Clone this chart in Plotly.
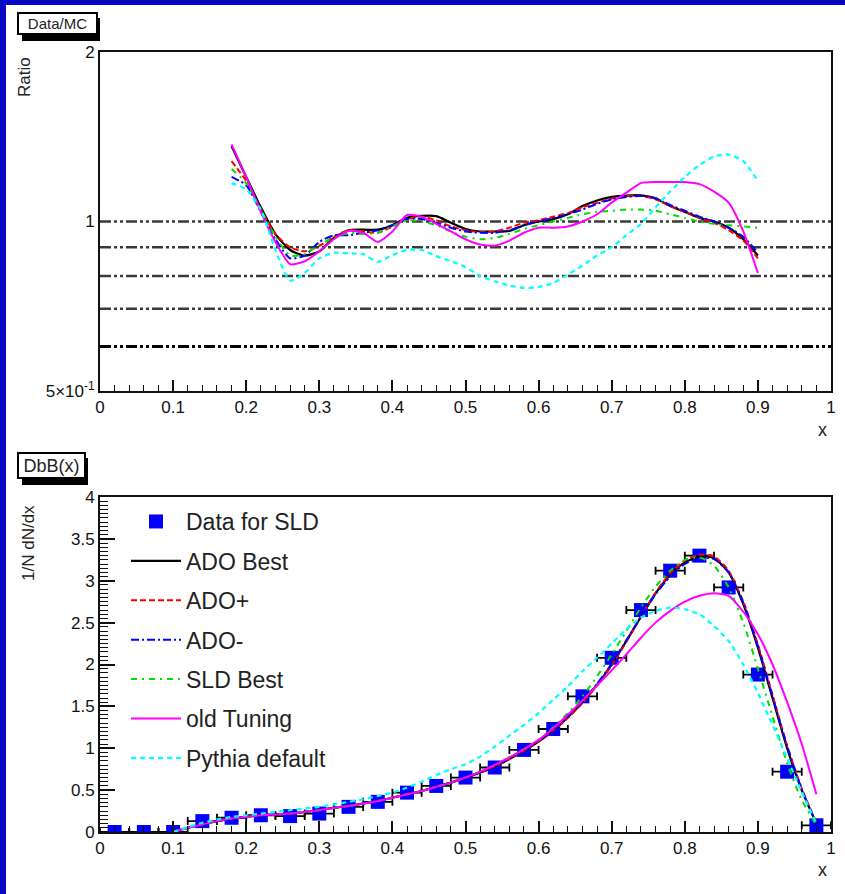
import plotly.graph_objects as go

# ---------------- data ----------------
# Top panel: Data/MC ratio curves
x_ratio = [0.18, 0.20, 0.22, 0.24, 0.26, 0.28, 0.30, 0.32, 0.34, 0.36, 0.38, 0.40,
           0.42, 0.44, 0.46, 0.48, 0.50, 0.52, 0.54, 0.56, 0.58, 0.60, 0.62, 0.64,
           0.66, 0.68, 0.70, 0.72, 0.74, 0.76, 0.78, 0.80, 0.82, 0.84, 0.86, 0.88, 0.90]
ratio_ado_best = [1.36, 1.20, 1.06, 0.95, 0.89, 0.87, 0.885, 0.935, 0.965, 0.967, 0.967, 0.985,
                  1.015, 1.023, 1.022, 0.995, 0.97, 0.96, 0.96, 0.962, 0.985, 1.0, 1.01, 1.03,
                  1.065, 1.09, 1.106, 1.112, 1.113, 1.10, 1.065, 1.04, 1.015, 1.0, 0.975, 0.93, 0.87]
ratio_ado_plus = [1.28, 1.18, 1.05, 0.95, 0.90, 0.885, 0.905, 0.94, 0.965, 0.96, 0.955, 0.98,
                  1.01, 1.02, 1.005, 0.98, 0.965, 0.958, 0.96, 0.975, 0.995, 1.005, 1.02, 1.035,
                  1.06, 1.08, 1.098, 1.11, 1.112, 1.095, 1.065, 1.04, 1.015, 0.995, 0.965, 0.925, 0.86]
ratio_ado_minus = [1.20, 1.16, 1.04, 0.93, 0.86, 0.87, 0.92, 0.945, 0.945, 0.955, 0.965, 0.985,
                   1.01, 1.01, 0.995, 0.975, 0.96, 0.955, 0.955, 0.965, 0.985, 1.0, 1.015, 1.03,
                   1.05, 1.075, 1.095, 1.105, 1.11, 1.10, 1.07, 1.045, 1.02, 1.0, 0.975, 0.94, 0.88]
ratio_sld_best = [1.24, 1.17, 1.05, 0.94, 0.87, 0.875, 0.91, 0.935, 0.955, 0.95, 0.955, 0.98,
                  1.005, 1.0, 0.985, 0.96, 0.94, 0.93, 0.935, 0.95, 0.97, 0.985, 1.0, 1.015,
                  1.03, 1.04, 1.045, 1.05, 1.05, 1.045, 1.03, 1.015, 1.0, 0.99, 0.985, 0.98, 0.975]
ratio_old_tuning = [1.37, 1.20, 1.04, 0.92, 0.84, 0.85, 0.885, 0.93, 0.962, 0.955, 0.92, 0.96,
                    1.027, 1.02, 0.99, 0.96, 0.93, 0.91, 0.906, 0.925, 0.955, 0.975, 0.975, 0.98,
                    1.0, 1.03, 1.08, 1.125, 1.17, 1.175, 1.175, 1.175, 1.165, 1.13, 1.08, 0.96, 0.81]
ratio_pythia = [1.17, 1.14, 1.05, 0.89, 0.785, 0.81, 0.86, 0.88, 0.878, 0.875, 0.848, 0.872,
                0.89, 0.89, 0.868, 0.85, 0.83, 0.80, 0.783, 0.77, 0.762, 0.765, 0.778, 0.805,
                0.835, 0.87, 0.90, 0.945, 0.99, 1.06, 1.13, 1.20, 1.26, 1.305, 1.315, 1.28, 1.18]
ref_levels = [1.0, 0.9, 0.8, 0.7, 0.6]

# Bottom panel: data points (SLD) and MC curves
x_data = [0.02, 0.06, 0.10, 0.14, 0.18, 0.22, 0.26, 0.30, 0.34, 0.38, 0.42, 0.46, 0.50,
          0.54, 0.58, 0.62, 0.66, 0.70, 0.74, 0.78, 0.82, 0.86, 0.90, 0.94, 0.98]
y_data = [0.0, 0.0, 0.0, 0.13, 0.17, 0.20, 0.19, 0.22, 0.30, 0.36, 0.47, 0.55, 0.65,
          0.77, 0.98, 1.23, 1.62, 2.08, 2.65, 3.12, 3.30, 2.92, 1.88, 0.72, 0.08]
x_bin_half = [0.02] * len(x_data)

x_mc = [0.10, 0.12, 0.14, 0.16, 0.18, 0.20, 0.22, 0.24, 0.26, 0.28, 0.30, 0.32, 0.34, 0.36, 0.38,
        0.40, 0.42, 0.44, 0.46, 0.48, 0.50, 0.52, 0.54, 0.56, 0.58, 0.60, 0.62, 0.64, 0.66, 0.68,
        0.70, 0.72, 0.74, 0.76, 0.78, 0.80, 0.82, 0.84, 0.86, 0.88, 0.90, 0.92, 0.94, 0.96, 0.98]
mc_ado_best = [0.00, 0.05, 0.09, 0.13, 0.16, 0.18, 0.20, 0.21, 0.22, 0.24, 0.26, 0.29, 0.31, 0.34, 0.37,
               0.41, 0.45, 0.49, 0.54, 0.59, 0.65, 0.71, 0.78, 0.87, 0.97, 1.08, 1.21, 1.37, 1.55, 1.76,
               2.00, 2.28, 2.57, 2.85, 3.07, 3.22, 3.29, 3.27, 3.10, 2.72, 2.20, 1.60, 1.00, 0.50, 0.10]
mc_ado_plus = [0.00, 0.05, 0.09, 0.13, 0.16, 0.18, 0.20, 0.21, 0.22, 0.24, 0.26, 0.29, 0.31, 0.34, 0.37,
               0.41, 0.45, 0.49, 0.54, 0.59, 0.65, 0.71, 0.78, 0.87, 0.97, 1.08, 1.21, 1.36, 1.54, 1.75,
               1.99, 2.27, 2.57, 2.86, 3.09, 3.24, 3.31, 3.29, 3.12, 2.75, 2.24, 1.64, 1.03, 0.52, 0.11]
mc_ado_minus = [0.00, 0.05, 0.09, 0.13, 0.16, 0.18, 0.20, 0.21, 0.22, 0.24, 0.26, 0.29, 0.31, 0.34, 0.37,
                0.41, 0.45, 0.49, 0.54, 0.59, 0.65, 0.71, 0.79, 0.88, 0.98, 1.09, 1.22, 1.38, 1.56, 1.77,
                2.01, 2.29, 2.57, 2.84, 3.05, 3.20, 3.27, 3.26, 3.10, 2.74, 2.22, 1.62, 1.02, 0.51, 0.10]
mc_sld_best = [0.00, 0.05, 0.09, 0.13, 0.16, 0.18, 0.20, 0.21, 0.22, 0.24, 0.26, 0.29, 0.31, 0.34, 0.37,
               0.41, 0.45, 0.49, 0.54, 0.59, 0.65, 0.72, 0.80, 0.89, 0.99, 1.10, 1.25, 1.42, 1.62, 1.86,
               2.12, 2.40, 2.68, 2.93, 3.12, 3.25, 3.28, 3.18, 2.92, 2.50, 1.95, 1.38, 0.82, 0.38, 0.08]
mc_old_tuning = [0.00, 0.05, 0.09, 0.13, 0.16, 0.18, 0.20, 0.21, 0.22, 0.24, 0.26, 0.29, 0.31, 0.34, 0.37,
                 0.41, 0.45, 0.49, 0.54, 0.59, 0.65, 0.72, 0.80, 0.89, 0.99, 1.10, 1.24, 1.40, 1.57, 1.75,
                 1.93, 2.12, 2.32, 2.50, 2.64, 2.75, 2.82, 2.85, 2.82, 2.63, 2.36, 2.00, 1.55, 1.05, 0.45]
mc_pythia = [0.00, 0.06, 0.11, 0.15, 0.18, 0.20, 0.22, 0.24, 0.26, 0.28, 0.30, 0.33, 0.36, 0.39, 0.43,
             0.47, 0.53, 0.60, 0.68, 0.75, 0.81, 0.90, 1.02, 1.15, 1.28, 1.42, 1.58, 1.74, 1.92, 2.08,
             2.25, 2.42, 2.56, 2.64, 2.68, 2.66, 2.60, 2.46, 2.28, 2.00, 1.66, 1.28, 0.88, 0.48, 0.10]

x_ticks = [0, 0.1, 0.2, 0.3, 0.4, 0.5, 0.6, 0.7, 0.8, 0.9, 1]
x_ticklabels = ["0", "0.1", "0.2", "0.3", "0.4", "0.5", "0.6", "0.7", "0.8", "0.9", "1"]
ratio_ticks = [0.5, 1, 2]
ratio_ticklabels = ["5×10<sup>-1</sup>", "1", "2"]
dist_ticks = [0, 0.5, 1, 1.5, 2, 2.5, 3, 3.5, 4]
dist_ticklabels = ["0", "0.5", "1", "1.5", "2", "2.5", "3", "3.5", "4"]

# ---------------- layout helpers ----------------
W, H = 845, 894
L, R, T, B = 100, 14, 52, 62
PW, PH = W - L - R, H - T - B


def px_x(p):
    return (p - L) / PW


def px_y(p):
    return (H - B - p) / PH


FONT = "Liberation Sans, Arial, sans-serif"
BLUE_BG = "rgb(8,8,196)"

styles = [
    ("ADO Best", dict(color="black", width=2.2, dash="solid")),
    ("ADO+", dict(color="red", width=2, dash="6px,3px")),
    ("ADO-", dict(color="blue", width=2, dash="8px,3px,2px,3px")),
    ("SLD Best", dict(color="#00dd00", width=2, dash="6px,5px,2px,5px")),
    ("old Tuning", dict(color="magenta", width=2, dash="solid")),
    ("Pythia default", dict(color="cyan", width=2.2, dash="5px,4px")),
]
ratio_series = [ratio_ado_best, ratio_ado_plus, ratio_ado_minus, ratio_sld_best,
                ratio_old_tuning, ratio_pythia]
mc_series = [mc_ado_best, mc_ado_plus, mc_ado_minus, mc_sld_best, mc_old_tuning, mc_pythia]

fig = go.Figure()

# reference lines in ratio panel
for lvl in ref_levels:
    fig.add_trace(go.Scatter(
        x=[0, 1], y=[lvl, lvl], mode="lines", xaxis="x", yaxis="y", showlegend=False,
        hoverinfo="skip",
        line=dict(color="black" if lvl == 0.6 else "#3a3a3a", width=3 if lvl == 0.6 else 2.4,
                  dash="11px,3px,3px,3px,3px,3px")))

# ratio curves
for (name, st), ys in zip(styles, ratio_series):
    fig.add_trace(go.Scatter(
        x=x_ratio, y=ys, mode="lines", xaxis="x", yaxis="y", showlegend=False, name=name,
        line=dict(shape="spline", smoothing=0.6, **st)))

# data points
fig.add_trace(go.Scatter(
    x=x_data, y=y_data, mode="markers", xaxis="x2", yaxis="y2", name="Data for SLD",
    legendgroup="g0",
    marker=dict(symbol="square", size=14, color="blue"),
    error_x=dict(type="data", array=x_bin_half, symmetric=True, color="black",
                 thickness=1.8, width=4)))

# MC curves
for i, ((name, st), ys) in enumerate(zip(styles, mc_series)):
    fig.add_trace(go.Scatter(
        x=x_mc, y=ys, mode="lines", xaxis="x2", yaxis="y2", name=name,
        legendgroup="g%d" % (i + 1),
        line=dict(shape="spline", smoothing=0.6, **st)))

axis_common = dict(showgrid=False, zeroline=False, showline=True, linecolor="#111",
                   linewidth=2, mirror=True, automargin=False,
                   tickfont=dict(family=FONT, size=17, color="#111"))

xaxis_common = dict(axis_common, range=[0, 1], tickvals=x_ticks, ticktext=x_ticklabels,
                    ticks="inside", ticklen=11, tickwidth=1.6, tickcolor="#111",
                    minor=dict(dtick=0.02, tick0=0, ticks="inside", ticklen=6,
                               tickwidth=1.4, tickcolor="#111"))

top_dom = [px_y(391), 1.0]
bot_dom = [0.0, px_y(497)]

shapes = [
    # blue slide border
    dict(type="rect", xref="paper", yref="paper", x0=px_x(0), x1=px_x(6),
         y0=px_y(H), y1=px_y(0), fillcolor=BLUE_BG, line=dict(width=0), layer="below"),
    dict(type="rect", xref="paper", yref="paper", x0=px_x(0), x1=px_x(W),
         y0=px_y(5), y1=px_y(0), fillcolor=BLUE_BG, line=dict(width=0), layer="below"),
    # title box shadows
    dict(type="rect", xref="paper", yref="paper", x0=px_x(22), x1=px_x(100),
         y0=px_y(41), y1=px_y(18), fillcolor="black", line=dict(width=0)),
    dict(type="rect", xref="paper", yref="paper", x0=px_x(22), x1=px_x(88),
         y0=px_y(485), y1=px_y(458), fillcolor="black", line=dict(width=0)),
]

annotations = [
    dict(text="Data/MC", x=px_x(57.5), y=px_y(23.5), xref="paper", yref="paper",
         xanchor="center", yanchor="middle", showarrow=False, width=75, height=17,
         bgcolor="white", bordercolor="black", borderwidth=2, borderpad=1,
         font=dict(family=FONT, size=15, color="#222")),
    dict(text="DbB(x)", x=px_x(51.5), y=px_y(465.5), xref="paper", yref="paper",
         xanchor="center", yanchor="middle", showarrow=False, width=63, height=21,
         bgcolor="white", bordercolor="black", borderwidth=2, borderpad=1,
         font=dict(family=FONT, size=18, color="#222")),
    dict(text="Ratio", x=px_x(24), y=px_y(77), xref="paper", yref="paper",
         xanchor="center", yanchor="middle", showarrow=False, textangle=-90,
         font=dict(family=FONT, size=17, color="#222")),
    dict(text="1/N dN/dx", x=px_x(28), y=px_y(543), xref="paper", yref="paper",
         xanchor="center", yanchor="middle", showarrow=False, textangle=-90,
         font=dict(family=FONT, size=17, color="#222")),
    dict(text="x", x=px_x(822), y=px_y(430), xref="paper", yref="paper",
         xanchor="center", yanchor="middle", showarrow=False,
         font=dict(family=FONT, size=18, color="#222")),
    dict(text="x", x=px_x(822), y=px_y(870), xref="paper", yref="paper",
         xanchor="center", yanchor="middle", showarrow=False,
         font=dict(family=FONT, size=18, color="#222")),
]

fig.update_layout(
    width=W, height=H,
    margin=dict(l=L, r=R, t=T, b=B, autoexpand=False),
    paper_bgcolor="white", plot_bgcolor="white",
    xaxis=dict(xaxis_common, domain=[0, 1], anchor="y"),
    yaxis=dict(axis_common, domain=top_dom, anchor="x", type="log",
               range=[-0.30103, 0.30103], tickvals=ratio_ticks, ticktext=ratio_ticklabels,
               ticks=""),
    xaxis2=dict(xaxis_common, domain=[0, 1], anchor="y2"),
    yaxis2=dict(axis_common, domain=bot_dom, anchor="x2", range=[0, 4],
                tickvals=dist_ticks, ticktext=dist_ticklabels,
                ticks="inside", ticklen=15, tickwidth=1.6, tickcolor="#111",
                minor=dict(dtick=0.05, tick0=0, ticks="inside", ticklen=8,
                           tickwidth=1.2, tickcolor="#111")),
    legend=dict(x=px_x(126), y=px_y(500), xanchor="left", yanchor="top",
                bgcolor="rgba(0,0,0,0)", borderwidth=0, itemwidth=50,
                traceorder="grouped", tracegroupgap=6.5,
                font=dict(family=FONT, size=23, color="#222")),
    shapes=shapes,
    annotations=annotations,
)

fig.write_html(
    "out.html",
    config={"displayModeBar": False},
    post_script="document.body.style.margin='0';document.body.style.overflow='hidden';",
)
